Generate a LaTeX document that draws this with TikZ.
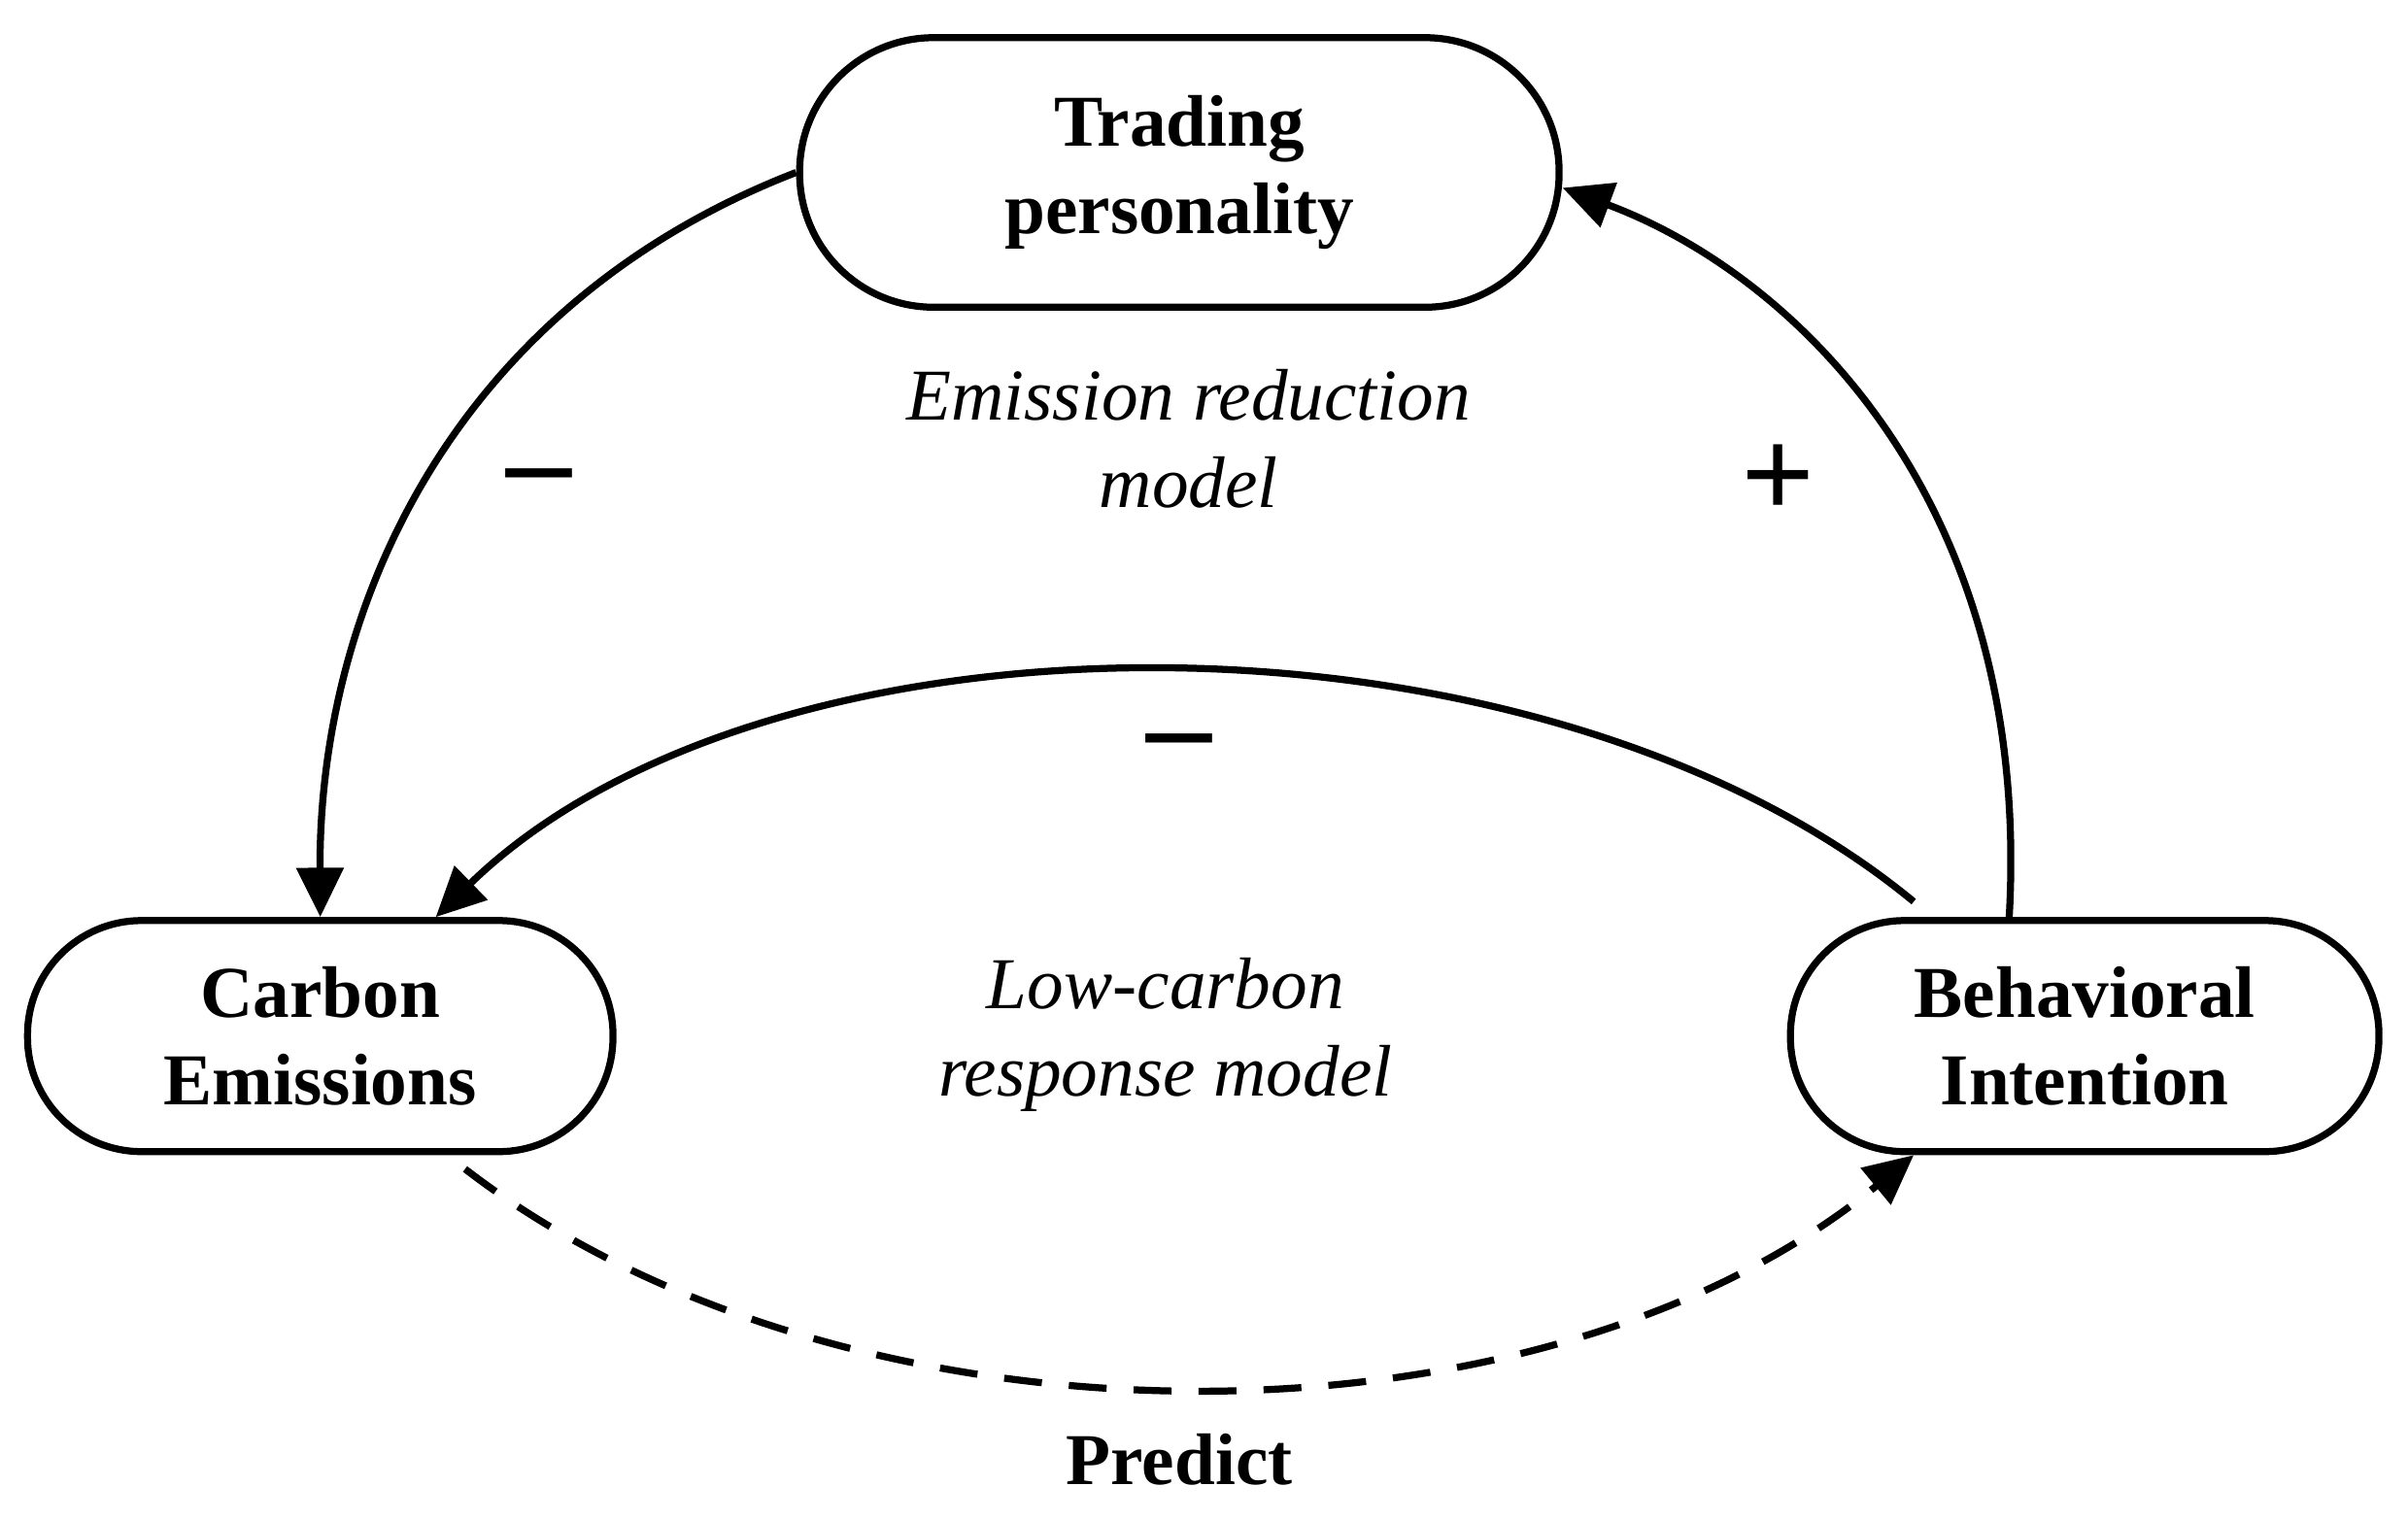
\documentclass[tikz,border=0pt]{standalone}
\usepackage{fontspec}
\setmainfont{Liberation Serif}
\usetikzlibrary{arrows.meta,calc}
\begin{document}
\begin{tikzpicture}[x=0.01cm,y=-0.01cm,
  box/.style={draw,line width=1.3pt,rounded corners=0.74cm,align=center,
    font=\fontsize{13.5}{16.2}\selectfont\bfseries,inner sep=0pt},
  lbl/.style={align=center,font=\fontsize{13.5}{16.2}\selectfont\itshape},
  sgn/.style={font=\fontsize{24}{24}\selectfont\bfseries},
  arr/.style={line width=1.3pt,-{Triangle[length=0.32cm,width=0.3cm]}}]
\useasboundingbox (0,0) rectangle (1564,987);
\node[box,minimum width=4.93cm,minimum height=1.75cm,rounded corners=0.87cm] (tp) at (766,112) {Trading\\personality};
\node[box,minimum width=3.8cm,minimum height=1.5cm] (ce) at (208,673) {Carbon\\Emissions};
\node[box,minimum width=3.82cm,minimum height=1.5cm] (bi) at (1354,673) {Behavioral\\Intention};
\node[lbl] (erm) at (772,285) {Emission reduction\\model};
\node[lbl] (lcr) at (757,672) {Low-carbon\\response model};
\node[sgn] (m1) at (350,316) {–};
\node[sgn] (p1) at (1155,313) {+};
\node[sgn] (m2) at (766,488) {–};
\node[font=\fontsize{13.5}{16.2}\selectfont\bfseries] (pr) at (766,948) {Predict};
\draw[arr] (tp.west) .. controls (290,200) and (207,400) .. (ce.north);
\draw[arr] ([xshift=-0.49cm]bi.north) .. controls (1320,330) and (1170,180) .. ([yshift=-0.1cm]tp.east);
\draw[arr] ([xshift=-1.11cm,yshift=0.1cm]bi.north) .. controls (1000,385) and (500,385) .. ([xshift=0.75cm]ce.north);
\draw[arr,dashed,dash pattern=on 7pt off 5pt] ([xshift=0.94cm,yshift=-0.09cm]ce.south) .. controls (550,950) and (1000,950) .. ([xshift=-1.11cm]bi.south);
\end{tikzpicture}
\end{document}
